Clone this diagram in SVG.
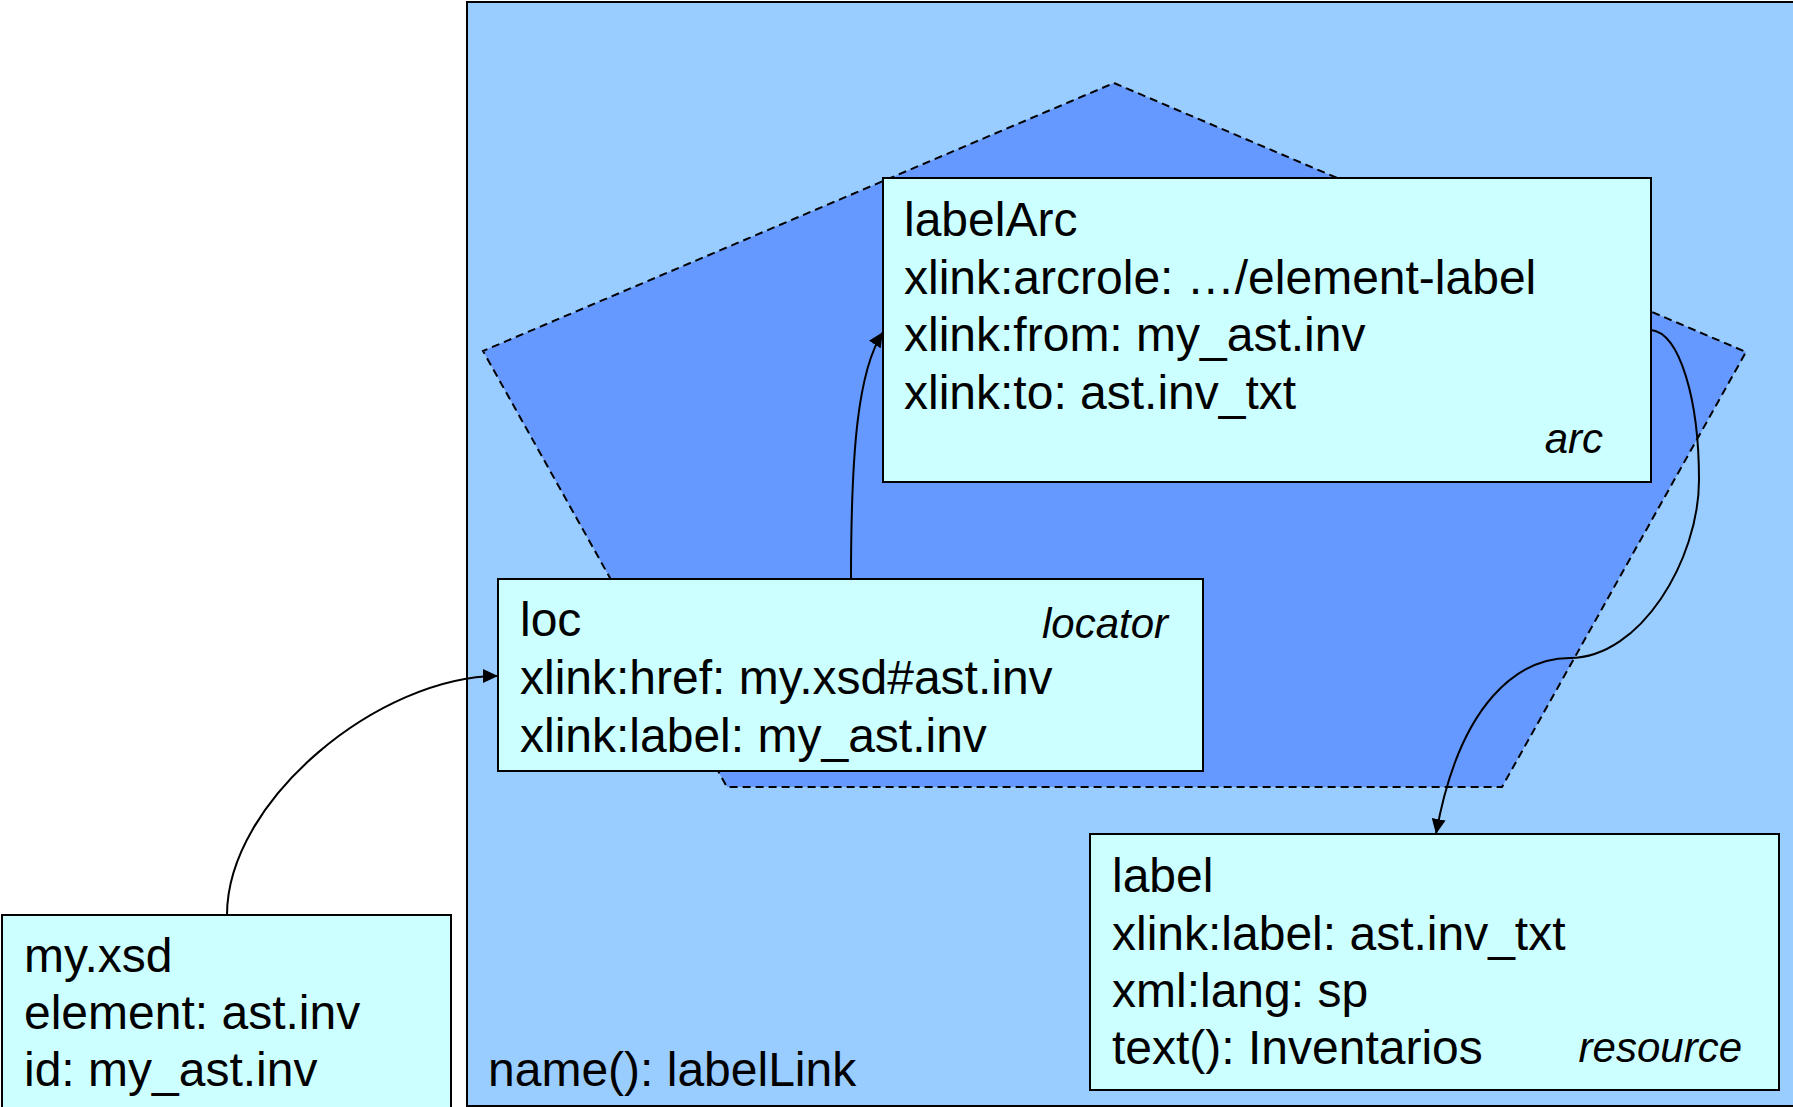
<svg xmlns="http://www.w3.org/2000/svg" width="1793" height="1107" viewBox="0 0 1793 1107">
  <style>
    .box { fill: #CCFFFF; stroke: #000; stroke-width: 2; }
    .t { font-family: "Liberation Sans", Arial, sans-serif; font-size: 48px; fill: #000; }
    .ti { font-family: "Liberation Sans", Arial, sans-serif; font-size: 42px; font-style: italic; fill: #000; text-anchor: end; }
    .conn { fill: none; stroke: #000; stroke-width: 2; marker-end: url(#arrow); }
  </style>
  <defs>
    <marker id="arrow" viewBox="0 0 15 14" refX="15" refY="7" markerWidth="15" markerHeight="14" markerUnits="userSpaceOnUse" orient="auto">
      <path d="M0,0 L15,7 L0,14 Z" fill="#000"/>
    </marker>
  </defs>
  <rect width="1793" height="1107" fill="#fff"/>

  <!-- extended link container -->
  <g id="labelLink">
    <rect x="467" y="2" width="1340" height="1104" fill="#99CCFF" stroke="#000" stroke-width="2"/>
    <text class="t" x="488" y="1086">name(): labelLink</text>
  </g>

  <!-- arc pentagon backdrop -->
  <g id="arcShape">
    <polygon points="1114,83 1746,352 1502,787 727,787 483,351" fill="#6699FF" stroke="#000" stroke-width="2" stroke-dasharray="8,5"/>
  </g>

  <g id="labelArc">
    <rect class="box" x="883" y="178" width="768" height="304"/>
    <text class="t" x="904" y="236">labelArc</text>
    <text class="t" x="904" y="293.5">xlink:arcrole: …/element-label</text>
    <text class="t" x="904" y="351">xlink:from: my_ast.inv</text>
    <text class="t" x="904" y="408.5">xlink:to: ast.inv_txt</text>
    <text class="ti" x="1603" y="453">arc</text>
  </g>

  <g id="loc">
    <rect class="box" x="498" y="579" width="705" height="192"/>
    <text class="t" x="520" y="636">loc</text>
    <text class="t" x="520" y="694">xlink:href: my.xsd#ast.inv</text>
    <text class="t" x="520" y="752">xlink:label: my_ast.inv</text>
    <text class="ti" x="1168" y="638">locator</text>
  </g>

  <g id="label">
    <rect class="box" x="1090" y="834" width="689" height="256"/>
    <text class="t" x="1112" y="892">label</text>
    <text class="t" x="1112" y="950">xlink:label: ast.inv_txt</text>
    <text class="t" x="1112" y="1007">xml:lang: sp</text>
    <text class="t" x="1112" y="1064">text(): Inventarios</text>
    <text class="ti" x="1742" y="1062">resource</text>
  </g>

  <g id="myxsd">
    <rect class="box" x="2" y="915" width="449" height="200"/>
    <text class="t" x="24" y="972">my.xsd</text>
    <text class="t" x="24" y="1029">element: ast.inv</text>
    <text class="t" x="24" y="1086">id: my_ast.inv</text>
  </g>

  <g id="connectors">
    <path class="conn" d="M227,915 C227,800 380,676 498,676"/>
    <path class="conn" d="M851,579 C851,450 858,370 883,332"/>
    <path class="conn" d="M1651,330 C1680,333 1699,400 1699,480 C1699,560 1640,658 1570,658 C1520,658 1460,700 1436,834"/>
  </g>
</svg>
